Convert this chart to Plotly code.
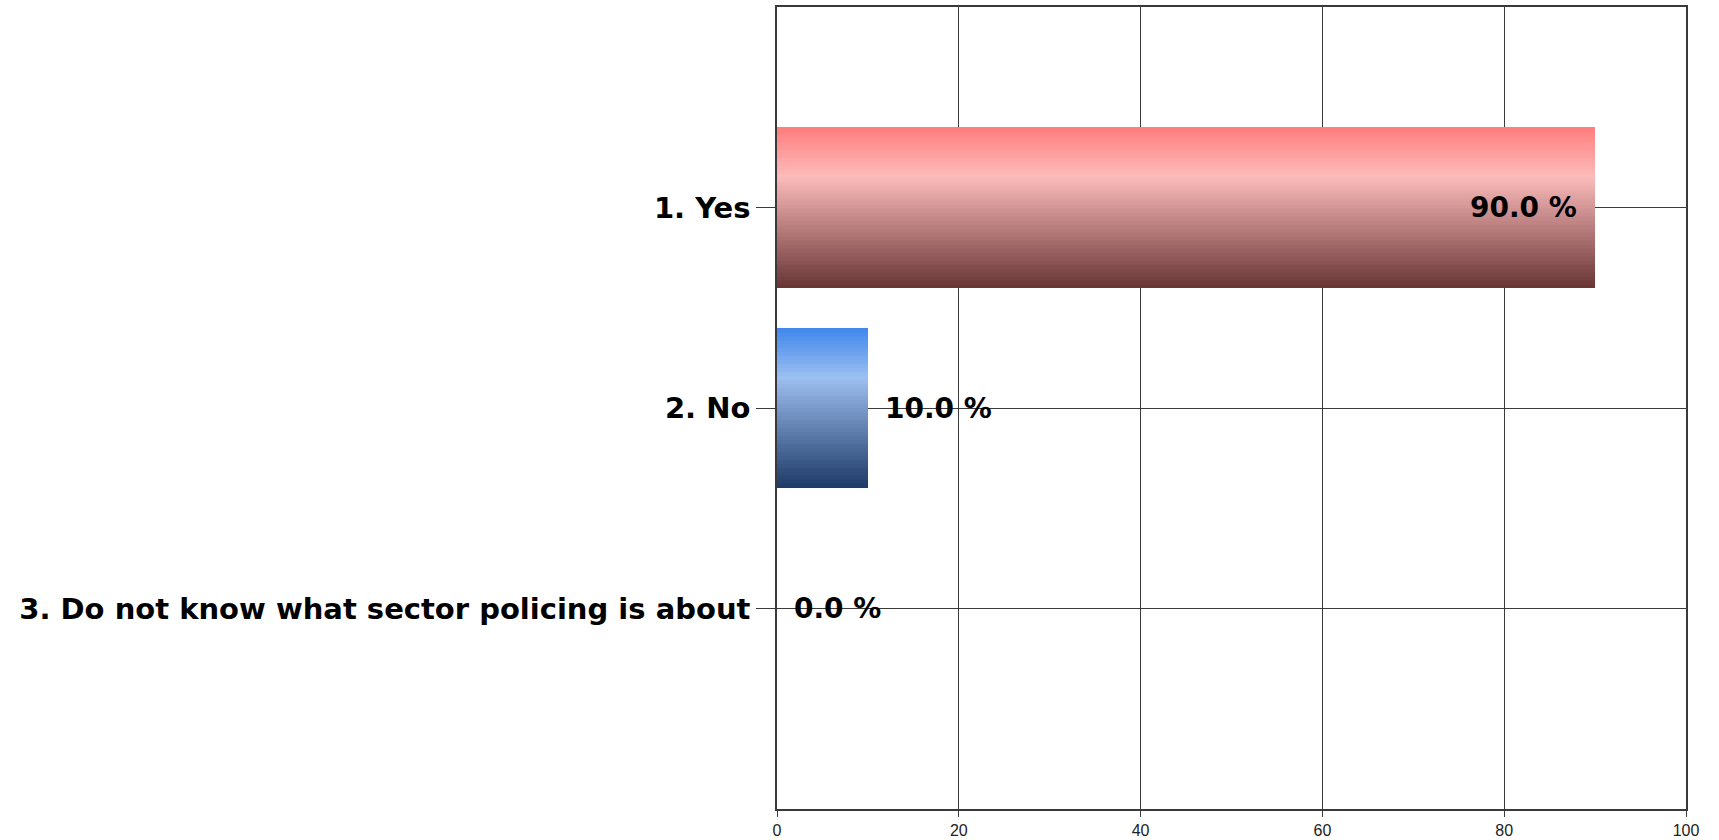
import plotly.graph_objects as go

# ---- data ----
categories = ["1. Yes", "2. No", "3. Do not know what sector policing is about"]
percent_values = [90.0, 10.0, 0.0]
x_tick_values = [0, 20, 40, 60, 80, 100]

# ---- style: vertical gradient stops (t from top=0 to bottom=1) ----
gradients = [
    [(0.0, (255, 125, 125)), (0.31, (252, 187, 187)), (1.0, (104, 52, 52))],
    [(0.0, (62, 134, 236)), (0.31, (157, 191, 241)), (1.0, (29, 57, 101))],
    [(0.0, (170, 200, 120)), (0.31, (210, 230, 180)), (1.0, (60, 80, 40))],
]


def grad_color(stops, t):
    for (t0, c0), (t1, c1) in zip(stops[:-1], stops[1:]):
        if t0 <= t <= t1:
            f = (t - t0) / (t1 - t0) if t1 > t0 else 0
            c = [round(a + (b - a) * f) for a, b in zip(c0, c1)]
            return f"rgb({c[0]},{c[1]},{c[2]})"
    c = stops[-1][1]
    return f"rgb({c[0]},{c[1]},{c[2]})"


BAR_W = 0.8
N = 60
fig = go.Figure()
for i in range(N):
    t_top = i / N
    t_mid = (i + 0.5) / N
    fig.add_trace(go.Bar(
        y=categories,
        x=percent_values,
        orientation="h",
        offset=-BAR_W / 2 + BAR_W * t_top,
        width=BAR_W * (1 - t_top),
        marker=dict(color=[grad_color(gradients[k], t_mid) for k in range(len(categories))],
                    line=dict(width=0)),
        showlegend=False,
        hoverinfo="skip",
    ))

label_font = dict(family="DejaVu Sans", size=28, color="black", weight="bold")
annotations = []
for cat, v in zip(categories, percent_values):
    inside = v >= 50
    annotations.append(dict(
        x=v, y=cat, xref="x", yref="y",
        text=f"{v:.1f} %",
        showarrow=False,
        xanchor="right" if inside else "left",
        xshift=-16 if inside else 15,
        yanchor="middle",
        font=label_font,
    ))

line_col = "#3a3a3a"
fig.update_layout(
    width=1719, height=840,
    margin=dict(l=777, r=33, t=7, b=31, autoexpand=False),
    paper_bgcolor="white", plot_bgcolor="white",
    barmode="overlay",
    bargap=0,
    annotations=annotations,
    xaxis=dict(
        range=[0, 100], tickvals=x_tick_values,
        showgrid=True, gridcolor=line_col, gridwidth=1.3,
        zeroline=False, automargin=False,
        showline=True, linecolor=line_col, linewidth=1.5, mirror=True,
        ticks="outside", ticklen=6, tickcolor=line_col, tickwidth=1.3,
        tickfont=dict(family="Liberation Sans", size=16, color="#222"),
        fixedrange=True,
    ),
    yaxis=dict(
        type="category", categoryorder="array", categoryarray=categories,
        range=[3, -1],
        showgrid=True, gridcolor=line_col, gridwidth=1.3,
        zeroline=False, automargin=False,
        showline=True, linecolor=line_col, linewidth=1.5, mirror=True,
        ticks="outside", ticklen=19, tickcolor=line_col, tickwidth=1.3,
        tickfont=dict(family="DejaVu Sans", size=29, color="black", weight="bold"),
        fixedrange=True,
    ),
)

fig.write_html("out.html", config={"displayModeBar": False},
               post_script="document.body.style.margin='0';")
